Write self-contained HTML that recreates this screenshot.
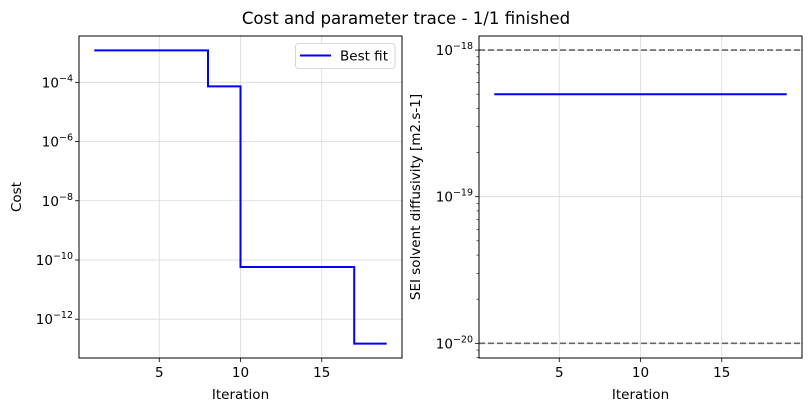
<!DOCTYPE html>
<html><head><meta charset="utf-8"><style>
body{margin:0;background:#fff;}
svg{display:block;font-family:"DejaVu Sans","Liberation Sans",sans-serif;}
</style></head><body>
<svg id="fig" width="811" height="411" viewBox="0 0 811 411">
<text x="406" y="24" text-anchor="middle" font-size="16.6">Cost and parameter trace - 1/1 finished</text>
<g id="left"></g>
<g id="right"></g>
</svg>
<script>
const iterations = [1,2,3,4,5,6,7,8,9,10,11,12,13,14,15,16,17,18,19];
const costValues = [1.2e-3,1.2e-3,1.2e-3,1.2e-3,1.2e-3,1.2e-3,1.2e-3,7.3e-5,7.3e-5,5.8e-11,5.8e-11,5.8e-11,5.8e-11,5.8e-11,5.8e-11,5.8e-11,1.5e-13,1.5e-13,1.5e-13];
const paramValues = [5e-19,5e-19,5e-19,5e-19,5e-19,5e-19,5e-19,5e-19,5e-19,5e-19,5e-19,5e-19,5e-19,5e-19,5e-19,5e-19,5e-19,5e-19,5e-19];
const paramBounds = [1e-18, 1e-20];
const xTicks = [5,10,15];
const costTicks = [-4,-6,-8,-10,-12];
const paramTicks = [-18,-19,-20];

const NS="http://www.w3.org/2000/svg";
function mk(parent,tag,attrs){const e=document.createElementNS(NS,tag);for(const k in attrs)e.setAttribute(k,attrs[k]);parent.appendChild(e);return e;}
const axTop=36,axBot=358;
function panel(x0,x1,ylo,yhi){
  const sx=v=>x0+(v-0.06)/(19.94-0.06)*(x1-x0);
  const sy=v=>axBot-(Math.log10(v)-ylo)/(yhi-ylo)*(axBot-axTop);
  return {sx,sy};
}
function drawAxes(g,x0,x1,sx,sy,ticks,minor,ylabel,ylx){
  for(const t of xTicks){
    const l=mk(g,'line',{x1:sx(t),x2:sx(t),y1:axTop,y2:axBot,stroke:'#d9d9d9','stroke-width':0.8});
    
    const tk=mk(g,'line',{x1:sx(t),x2:sx(t),y1:axBot,y2:axBot+4,stroke:'#000','stroke-width':0.8});
    
    const tx=mk(g,'text',{x:sx(t),y:axBot+19,'text-anchor':'middle','font-size':13.5});tx.textContent=t;
    
  }
  for(const e of ticks){
    const y=sy(Math.pow(10,e));
    const l=mk(g,'line',{x1:x0,x2:x1,y1:y,y2:y,stroke:'#d9d9d9','stroke-width':0.8});
    
    const tk=mk(g,'line',{x1:x0-4,x2:x0,y1:y,y2:y,stroke:'#000','stroke-width':0.8});
    
    const tx=mk(g,'text',{x:x0-6,y:y+5,'text-anchor':'end','font-size':13.5});
    
    tx.innerHTML='10<tspan dy="-6" font-size="9.5">\u2212'+Math.abs(e)+'</tspan>';
  }
  if(minor){
    for(let e=-21;e<=-17;e++)for(let m=2;m<=9;m++){
      const v=m*Math.pow(10,e);const y=sy(v);
      if(y<axTop||y>axBot)continue;
      const tk=mk(g,'line',{x1:x0-2.5,x2:x0,y1:y,y2:y,stroke:'#000','stroke-width':0.6});
      
    }
  }
  const xl=mk(g,'text',{x:(x0+x1)/2,y:axBot+41,'text-anchor':'middle','font-size':13.5});xl.textContent='Iteration';
  
  const yl=mk(g,'text',{x:ylx,y:197,'text-anchor':'middle','font-size':13.5,transform:`rotate(-90 ${ylx} 197)`});yl.textContent=ylabel;
  
}
function frame(g,x0,x1){
  const r=mk(g,'rect',{x:x0,y:axTop,width:x1-x0,height:axBot-axTop,fill:'none',stroke:'#000','stroke-width':1});
  
}
// Left
const L=document.getElementById('left');
const lx0=79,lx1=402;
const p1=panel(lx0,lx1,-13.31,-2.436);
drawAxes(L,lx0,lx1,p1.sx,p1.sy,costTicks,false,'Cost',21);
let d='';
for(let i=0;i<iterations.length;i++){
  const x=p1.sx(iterations[i]),y=p1.sy(costValues[i]);
  if(i===0)d+=`M${x},${y}`;else d+=`H${x}V${y}`;
}
const c=mk(L,'path',{d:d,fill:'none',stroke:'#0000ff','stroke-width':2});

frame(L,lx0,lx1);
const lg=mk(L,'g',{});

mk(lg,'rect',{x:295.5,y:43.5,width:99.5,height:25,rx:3,fill:'#fff',stroke:'#ccc','stroke-width':0.8});
const ll=mk(lg,'line',{x1:300,x2:331,y1:55.5,y2:55.5,stroke:'#0000ff','stroke-width':2});

const lt=mk(lg,'text',{x:340,y:60.5,'font-size':13.5});lt.textContent='Best fit';

// Right
const R=document.getElementById('right');
const rx0=479,rx1=802;
const p2=panel(rx0,rx1,-20.10,-17.904);
drawAxes(R,rx0,rx1,p2.sx,p2.sy,paramTicks,true,'SEI solvent diffusivity [m2.s-1]',420);
for(const b of paramBounds){
  const y=p2.sy(b);
  const bl=mk(R,'line',{x1:rx0,x2:rx1,y1:y,y2:y,stroke:'#666','stroke-width':1.6,'stroke-dasharray':'6,3'});
  
}
let d2='';
for(let i=0;i<iterations.length;i++){
  const x=p2.sx(iterations[i]),y=p2.sy(paramValues[i]);
  d2+=(i===0?'M':'L')+x+','+y;
}
const pl=mk(R,'path',{d:d2,fill:'none',stroke:'#0000ff','stroke-width':2});

frame(R,rx0,rx1);
</script>
</body></html>
